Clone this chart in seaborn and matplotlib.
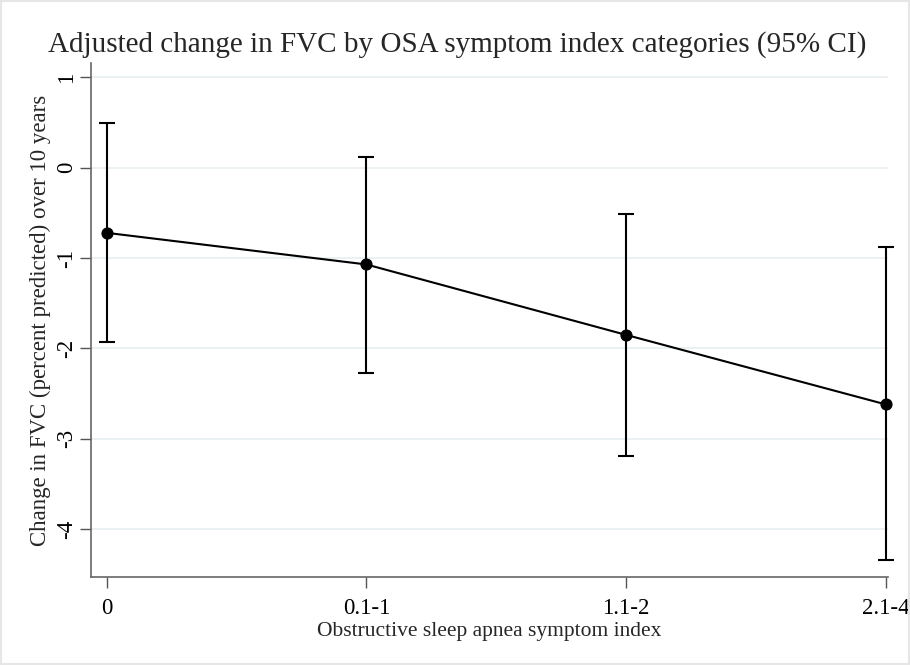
import numpy as np
import pandas as pd
import matplotlib
matplotlib.use("Agg")
import matplotlib.pyplot as plt
import seaborn as sns

categories = ["0", "0.1-1", "1.1-2", "2.1-4"]
estimate = [-0.72, -1.07, -1.85, -2.62]
ci_lower = [-1.93, -2.27, -3.19, -4.34]
ci_upper = [0.50, 0.12, -0.51, -0.88]
y_ticks = [1, 0, -1, -2, -3, -4]

sns.set_theme(style="white")
plt.rcParams["font.family"] = ["Liberation Serif", "DejaVu Serif"]

df = pd.DataFrame({"cat": categories, "pos": np.arange(len(categories)),
                   "est": estimate, "lo": ci_lower, "hi": ci_upper})

fig = plt.figure(figsize=(9.1, 6.65), dpi=100)
ax = fig.add_axes([91 / 910, 1 - 577 / 665, (888 - 91) / 910, (577 - 63) / 665])

eb = ax.errorbar(df["pos"], df["est"],
                 yerr=[df["est"] - df["lo"], df["hi"] - df["est"]],
                 fmt="none", ecolor="black", elinewidth=1.5, capsize=6, capthick=1.5, zorder=3)
for child in eb.get_children():
    child.set_clip_on(False)
sns.lineplot(data=df, x="pos", y="est", ax=ax, color="black", linewidth=1.5,
             marker="o", markersize=8, markeredgecolor="black", markerfacecolor="black",
             zorder=4, clip_on=False)

ax.set_xlim(-0.06, 3.008)
ax.set_ylim(-4.53, 1.16)
ax.set_xticks(df["pos"])
ax.set_xticklabels(categories)
ax.set_yticks(y_ticks)
ax.set_yticklabels([str(v) for v in y_ticks], rotation=90, va="center")

ax.yaxis.grid(True, color="#e8eef1", linewidth=1.2)
ax.xaxis.grid(False)
ax.set_axisbelow(True)

for s in ["top", "right"]:
    ax.spines[s].set_visible(False)
for s in ["left", "bottom"]:
    ax.spines[s].set_color("#666666")
    ax.spines[s].set_linewidth(1.2)

ax.tick_params(axis="both", which="major", direction="out", length=8, width=1,
               color="#555555", labelsize=16.5, labelcolor="black", left=True, bottom=True)
ax.tick_params(axis="x", pad=7)
ax.tick_params(axis="y", pad=2)

ax.set_xlabel("Obstructive sleep apnea symptom index", fontsize=15.5, labelpad=2)
ax.set_ylabel("Change in FVC (percent predicted) over 10 years", fontsize=16.5, labelpad=4)
fig.suptitle("Adjusted change in FVC by OSA symptom index categories (95% CI)",
             x=457 / 910, y=1 - 45 / 665, va="center", fontsize=21)

border = plt.Rectangle((0.001, 0.001), 0.998, 0.998, transform=fig.transFigure,
                       fill=False, edgecolor="#e6e6e6", linewidth=1.5)
fig.patches.append(border)

fig.savefig("out.png", dpi=100)
